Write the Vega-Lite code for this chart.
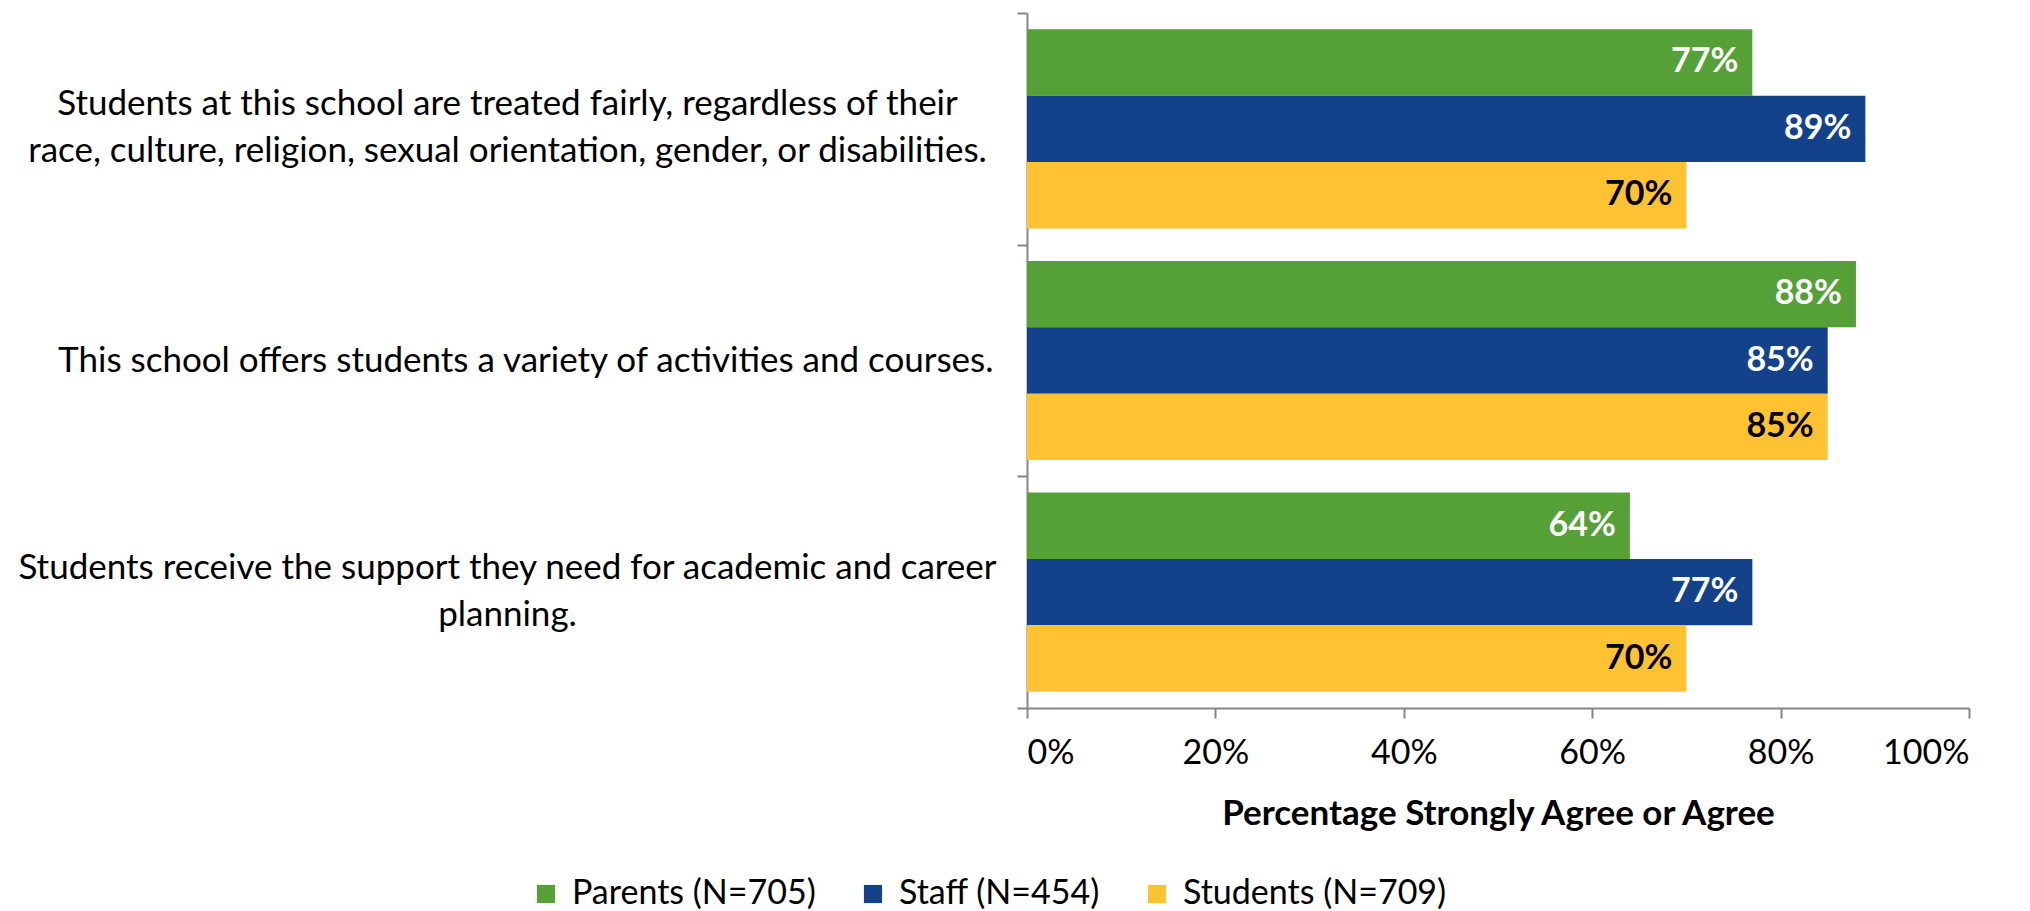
{
  "$schema": "https://vega.github.io/schema/vega-lite/v6.json",
  "width": 942,
  "height": 695,
  "autosize": {"type": "none"},
  "padding": {"left": 1027, "top": 13, "right": 61, "bottom": 203},
  "background": "white",
  "config": {
    "view": {"stroke": null},
    "font": "Lato",
    "axis": {"labelFont": "Lato", "titleFont": "Lato", "labelColor": "black", "titleColor": "black", "domainColor": "#868686", "tickColor": "#868686", "domainWidth": 2, "tickWidth": 2, "grid": false},
    "legend": {"labelFont": "Lato", "labelColor": "black"}
  },
  "data": {
    "values": [
      {"q": "Students at this school are treated fairly, regardless of their|race, culture, religion, sexual orientation, gender, or disabilities.", "group": "Parents (N=705)", "pct": 0.77},
      {"q": "Students at this school are treated fairly, regardless of their|race, culture, religion, sexual orientation, gender, or disabilities.", "group": "Staff (N=454)", "pct": 0.89},
      {"q": "Students at this school are treated fairly, regardless of their|race, culture, religion, sexual orientation, gender, or disabilities.", "group": "Students (N=709)", "pct": 0.70},
      {"q": "This school offers students a variety of activities and courses.", "group": "Parents (N=705)", "pct": 0.88},
      {"q": "This school offers students a variety of activities and courses.", "group": "Staff (N=454)", "pct": 0.85},
      {"q": "This school offers students a variety of activities and courses.", "group": "Students (N=709)", "pct": 0.85},
      {"q": "Students receive the support they need for academic and career|planning.", "group": "Parents (N=705)", "pct": 0.64},
      {"q": "Students receive the support they need for academic and career|planning.", "group": "Staff (N=454)", "pct": 0.77},
      {"q": "Students receive the support they need for academic and career|planning.", "group": "Students (N=709)", "pct": 0.70}
    ]
  },
  "encoding": {
    "y": {
      "field": "q", "type": "nominal", "sort": null,
      "scale": {"paddingInner": 0, "paddingOuter": 0},
      "axis": {
        "title": null, "tickBand": "extent", "tickSize": 10,
        "labelExpr": "isString(datum.value) ? split(datum.value, '|') : ''",
        "labelAlign": {"condition": {"test": "isString(datum.value) && indexof(datum.value, '|') >= 0", "value": "center"}, "value": "right"},
        "labelPadding": {"condition": {"test": "isString(datum.value) && indexof(datum.value, '|') >= 0", "value": 510}, "value": 24},
        "labelOffset": {"condition": {"test": "isString(datum.value) && indexof(datum.value, '|') >= 0", "value": -25}, "value": 0},
        "labelBaseline": "middle",
        "labelLimit": 2000,
        "labelFontSize": 35, "labelLineHeight": 47
      }
    },
    "yOffset": {"field": "group", "type": "nominal", "sort": ["Parents (N=705)", "Staff (N=454)", "Students (N=709)"], "scale": {"paddingInner": 0, "paddingOuter": 0.245}},
    "x": {
      "field": "pct", "type": "quantitative",
      "scale": {"domain": [0, 1]},
      "axis": {
        "title": "Percentage Strongly Agree or Agree",
        "values": [0, 0.2, 0.4, 0.6, 0.8, 1],
        "format": ".0%",
        "labelFontSize": 34, "tickSize": 10, "labelPadding": 18,
        "titleFontSize": 35, "titleFontWeight": "bold", "titlePadding": 26
      }
    }
  },
  "layer": [
    {
      "mark": {"type": "bar"},
      "encoding": {
        "color": {
          "field": "group", "type": "nominal",
          "scale": {"domain": ["Parents (N=705)", "Staff (N=454)", "Students (N=709)"], "range": ["#55A137", "#14428A", "#FFC233"]},
          "legend": {
            "title": null, "orient": "none", "direction": "horizontal",
            "legendX": -498, "legendY": 864,
            "symbolType": "square", "symbolSize": 330, "symbolStrokeWidth": 0,
            "labelFontSize": 34, "labelOffset": 9, "columnPadding": 40, "labelLimit": 500
          }
        }
      }
    },
    {
      "mark": {"type": "text", "align": "right", "baseline": "middle", "dx": -14, "fontSize": 34, "fontWeight": "bold"},
      "encoding": {
        "text": {"field": "pct", "type": "quantitative", "format": ".0%"},
        "detail": {"field": "group"},
        "color": {"condition": {"test": "datum.group === 'Students (N=709)'", "value": "black"}, "value": "white"}
      }
    }
  ]
}
